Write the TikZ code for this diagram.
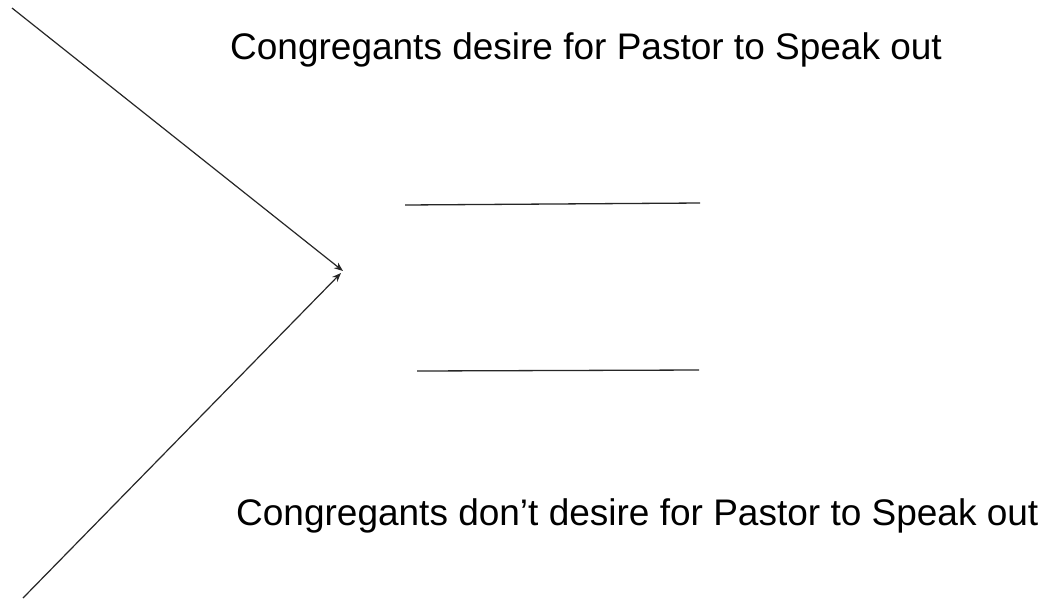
\documentclass[tikz,border=0pt]{standalone}
\usepackage{fontspec}
\setmainfont{Liberation Sans}
\usetikzlibrary{arrows.meta}
\begin{document}
\begin{tikzpicture}[x=1pt,y=-1pt,
  conn/.style={line width=1.2pt,draw=black!85,-{Stealth[length=9pt,width=7pt]}},
  bar/.style={line width=1.3pt,draw=black!85},
  lbl/.style={font=\fontsize{37}{44}\selectfont,anchor=base west,inner sep=0pt}]
\useasboundingbox[fill=white] (0,0) rectangle (1051,598);
\coordinate (s1) at (12,8);
\coordinate (s2) at (23,598);
\coordinate (tip) at (343,271);
\coordinate (tip2) at (341,273);
\draw[conn] (s1) -- (tip);
\draw[conn] (s2) -- (tip2);
\coordinate (a1) at (405,205);
\coordinate (a2) at (700,203);
\coordinate (b1) at (417,371);
\coordinate (b2) at (699,370);
\draw[bar] (a1) -- (a2);
\draw[bar] (b1) -- (b2);
\node[lbl] (t1) at (230,59) {Congregants desire for Pastor to Speak out};
\node[lbl] (t2) at (236,525) {Congregants don’t desire for Pastor to Speak out};
\end{tikzpicture}
\end{document}
